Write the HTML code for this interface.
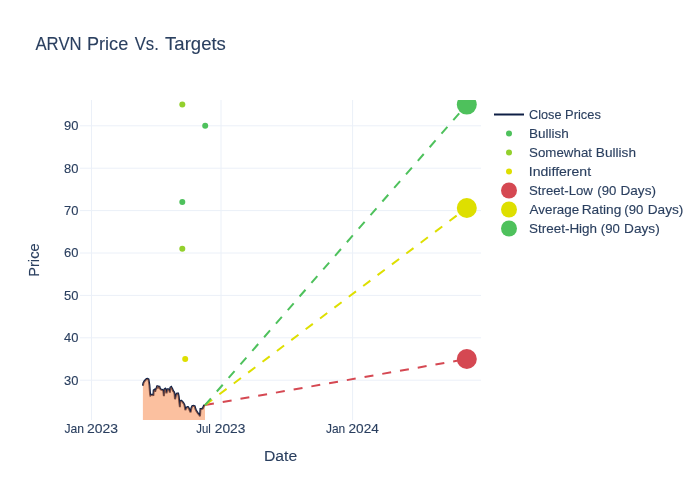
<!DOCTYPE html>
<html lang="en">
<head>
<meta charset="utf-8">
<title>ARVN Price Vs. Targets</title>
<style>
html,body{margin:0;padding:0;background:#fff;}
body{width:700px;height:500px;overflow:hidden;}
svg{display:block;will-change:transform;}
svg text{font-family:"Liberation Sans",sans-serif;fill:#2a3f5f;stroke:#2a3f5f;stroke-width:0.12px;white-space:pre;}
</style>
</head>
<body>
<svg width="700" height="500" viewBox="0 0 700 500">
<rect x="0" y="0" width="700" height="500" fill="#ffffff"/>
<defs><clipPath id="plot"><rect x="80" y="100" width="401" height="320"/></clipPath></defs>
<g stroke="#EBF0F8" stroke-width="1" fill="none">
<path d="M91.5,100V420"/>
<path d="M221.0,100V420"/>
<path d="M352.6,100V420"/>
<path d="M80,380.2H481"/>
<path d="M80,337.8H481"/>
<path d="M80,295.4H481"/>
<path d="M80,253.0H481"/>
<path d="M80,210.6H481"/>
<path d="M80,168.2H481"/>
<path d="M80,125.8H481"/>
</g>
<g clip-path="url(#plot)">
<path d="M142.9,385.7 L143.4,383.1 L144.3,381.4 L145.5,380.0 L146.6,378.9 L147.6,378.7 L148.5,379.4 L149.4,385.0 L150.1,394.6 L150.4,395.6 L151.5,394.8 L152.7,394.8 L153.4,395.6 L153.7,390.3 L154.4,389.8 L155.1,391.7 L155.6,389.8 L156.6,387.9 L157.4,385.6 L158.2,387.3 L159.2,386.0 L159.9,388.2 L160.8,389.5 L162.4,390.0 L163.3,390.7 L163.9,396.2 L164.5,389.2 L165.2,388.7 L165.9,389.9 L166.5,393.3 L167.4,389.2 L168.3,389.2 L169.3,390.2 L169.9,392.6 L170.4,387.5 L171.2,387.0 L172.2,388.7 L173.1,390.9 L174.1,392.2 L174.6,394.2 L175.0,399.2 L176.0,394.9 L177.1,393.4 L178.1,393.4 L178.7,396.4 L179.2,401.4 L179.9,407.2 L180.2,401.4 L181.2,400.7 L182.2,401.4 L183.4,403.1 L184.3,404.6 L184.8,406.7 L185.3,410.1 L186.2,407.9 L187.4,407.0 L188.2,407.2 L189.1,408.9 L190.0,411.2 L190.6,412.4 L191.4,408.1 L192.3,406.0 L193.5,405.7 L194.7,406.3 L195.5,409.2 L196.4,411.1 L198.0,413.4 L199.5,415.2 L200.0,416.2 L200.3,411.6 L200.5,409.0 L201.6,409.0 L202.8,408.4 L203.4,407.0 L204.0,405.6 L205.0,405.1" fill="none" stroke="#0E1F45" stroke-width="2" stroke-miterlimit="2"/>
<path d="M142.9,385.7 L143.4,383.1 L144.3,381.4 L145.5,380.0 L146.6,378.9 L147.6,378.7 L148.5,379.4 L149.4,385.0 L150.1,394.6 L150.4,395.6 L151.5,394.8 L152.7,394.8 L153.4,395.6 L153.7,390.3 L154.4,389.8 L155.1,391.7 L155.6,389.8 L156.6,387.9 L157.4,385.6 L158.2,387.3 L159.2,386.0 L159.9,388.2 L160.8,389.5 L162.4,390.0 L163.3,390.7 L163.9,396.2 L164.5,389.2 L165.2,388.7 L165.9,389.9 L166.5,393.3 L167.4,389.2 L168.3,389.2 L169.3,390.2 L169.9,392.6 L170.4,387.5 L171.2,387.0 L172.2,388.7 L173.1,390.9 L174.1,392.2 L174.6,394.2 L175.0,399.2 L176.0,394.9 L177.1,393.4 L178.1,393.4 L178.7,396.4 L179.2,401.4 L179.9,407.2 L180.2,401.4 L181.2,400.7 L182.2,401.4 L183.4,403.1 L184.3,404.6 L184.8,406.7 L185.3,410.1 L186.2,407.9 L187.4,407.0 L188.2,407.2 L189.1,408.9 L190.0,411.2 L190.6,412.4 L191.4,408.1 L192.3,406.0 L193.5,405.7 L194.7,406.3 L195.5,409.2 L196.4,411.1 L198.0,413.4 L199.5,415.2 L200.0,416.2 L200.3,411.6 L200.5,409.0 L201.6,409.0 L202.8,408.4 L203.4,407.0 L204.0,405.6 L205.0,405.1 L205.0,430 L142.9,430 Z" fill="rgb(247,129,63)" fill-opacity="0.5" stroke="none"/>
<circle cx="205.2" cy="125.8" r="3" fill="#4EC15C"/>
<circle cx="182.3" cy="202.12" r="3" fill="#4EC15C"/>
<circle cx="182.3" cy="104.6" r="3" fill="#93D02D"/>
<circle cx="182.3" cy="248.76" r="3" fill="#93D02D"/>
<circle cx="185.2" cy="359.0" r="3" fill="#DEDF00"/>
<path d="M205.0,405.1L466.8,359.0" fill="none" stroke="#D54852" stroke-width="2" stroke-dasharray="9,9"/>
<circle cx="466.8" cy="359.0" r="10" fill="#D54852"/>
<path d="M205.0,405.1L466.8,207.97" fill="none" stroke="#DEDF00" stroke-width="2" stroke-dasharray="9,9"/>
<circle cx="466.8" cy="207.97" r="10" fill="#DEDF00"/>
<path d="M205.0,405.1L466.8,104.6" fill="none" stroke="#4EC15C" stroke-width="2" stroke-dasharray="9,9"/>
<circle cx="466.8" cy="104.6" r="10" fill="#4EC15C"/>
</g>
<g>
<text x="78.4" y="384.6" font-size="12.6" text-anchor="end" textLength="14.4" lengthAdjust="spacingAndGlyphs">30</text>
<text x="78.4" y="342.2" font-size="12.6" text-anchor="end" textLength="14.4" lengthAdjust="spacingAndGlyphs">40</text>
<text x="78.4" y="299.8" font-size="12.6" text-anchor="end" textLength="14.4" lengthAdjust="spacingAndGlyphs">50</text>
<text x="78.4" y="257.4" font-size="12.6" text-anchor="end" textLength="14.4" lengthAdjust="spacingAndGlyphs">60</text>
<text x="78.4" y="215.0" font-size="12.6" text-anchor="end" textLength="14.4" lengthAdjust="spacingAndGlyphs">70</text>
<text x="78.4" y="172.6" font-size="12.6" text-anchor="end" textLength="14.4" lengthAdjust="spacingAndGlyphs">80</text>
<text x="78.4" y="130.2" font-size="12.6" text-anchor="end" textLength="14.4" lengthAdjust="spacingAndGlyphs">90</text>
</g>
<g>
<text y="433.0" font-size="12.6"><tspan x="64.41" textLength="19.58" lengthAdjust="spacingAndGlyphs">Jan</tspan> <tspan x="87.10" textLength="31.01" lengthAdjust="spacingAndGlyphs">2023</tspan></text>
<text y="433.0" font-size="12.6"><tspan x="196.22" textLength="14.54" lengthAdjust="spacingAndGlyphs">Jul</tspan> <tspan x="214.81" textLength="30.60" lengthAdjust="spacingAndGlyphs">2023</tspan></text>
<text y="433.0" font-size="12.6"><tspan x="326.01" textLength="19.26" lengthAdjust="spacingAndGlyphs">Jan</tspan> <tspan x="348.51" textLength="30.39" lengthAdjust="spacingAndGlyphs">2024</tspan></text>
</g>
<text x="280.6" y="461.1" font-size="14.7" text-anchor="middle" textLength="33.2" lengthAdjust="spacingAndGlyphs">Date</text>
<text x="0" y="0" font-size="14.7" text-anchor="middle" textLength="33.4" lengthAdjust="spacingAndGlyphs" transform="translate(39.2,260.1) rotate(-90)">Price</text>
<text y="49.6" font-size="17.8"><tspan x="35.47" textLength="46.14" lengthAdjust="spacingAndGlyphs">ARVN</tspan> <tspan x="87.02" textLength="41.19" lengthAdjust="spacingAndGlyphs">Price</tspan> <tspan x="134.68" textLength="24.10" lengthAdjust="spacingAndGlyphs">Vs.</tspan> <tspan x="165.10" textLength="60.75" lengthAdjust="spacingAndGlyphs">Targets</tspan></text>
<g>
<path d="M494,114.5H524" stroke="#0E1F45" stroke-width="2" fill="none"/>
<circle cx="509" cy="133.5" r="3" fill="#4EC15C"/>
<circle cx="509" cy="152.5" r="3" fill="#93D02D"/>
<circle cx="509" cy="171.5" r="3" fill="#DEDF00"/>
<circle cx="509" cy="190.5" r="8" fill="#D54852"/>
<circle cx="509" cy="209.5" r="8" fill="#DEDF00"/>
<circle cx="509" cy="228.5" r="8" fill="#4EC15C"/>
<text y="118.7" font-size="12.6"><tspan x="529.05" textLength="32.51" lengthAdjust="spacingAndGlyphs">Close</tspan> <tspan x="565.04" textLength="35.82" lengthAdjust="spacingAndGlyphs">Prices</tspan></text>
<text y="137.7" font-size="12.6"><tspan x="528.99" textLength="39.78" lengthAdjust="spacingAndGlyphs">Bullish</tspan></text>
<text y="156.7" font-size="12.6"><tspan x="529.10" textLength="62.90" lengthAdjust="spacingAndGlyphs">Somewhat</tspan> <tspan x="595.88" textLength="40.10" lengthAdjust="spacingAndGlyphs">Bullish</tspan></text>
<text y="175.7" font-size="12.6"><tspan x="528.81" textLength="62.30" lengthAdjust="spacingAndGlyphs">Indifferent</tspan></text>
<text y="194.7" font-size="12.6"><tspan x="529.00" textLength="63.87" lengthAdjust="spacingAndGlyphs">Street-Low</tspan> <tspan x="597.28" textLength="19.03" lengthAdjust="spacingAndGlyphs">(90</tspan> <tspan x="620.49" textLength="35.46" lengthAdjust="spacingAndGlyphs">Days)</tspan></text>
<text y="213.7" font-size="12.6"><tspan x="529.47" textLength="49.82" lengthAdjust="spacingAndGlyphs">Average</tspan> <tspan x="581.67" textLength="39.71" lengthAdjust="spacingAndGlyphs">Rating</tspan> <tspan x="624.38" textLength="19.03" lengthAdjust="spacingAndGlyphs">(90</tspan> <tspan x="647.68" textLength="35.67" lengthAdjust="spacingAndGlyphs">Days)</tspan></text>
<text y="232.7" font-size="12.6"><tspan x="528.99" textLength="68.09" lengthAdjust="spacingAndGlyphs">Street-High</tspan> <tspan x="600.78" textLength="19.03" lengthAdjust="spacingAndGlyphs">(90</tspan> <tspan x="624.08" textLength="35.67" lengthAdjust="spacingAndGlyphs">Days)</tspan></text>
</g>
</svg>
</body>
</html>
